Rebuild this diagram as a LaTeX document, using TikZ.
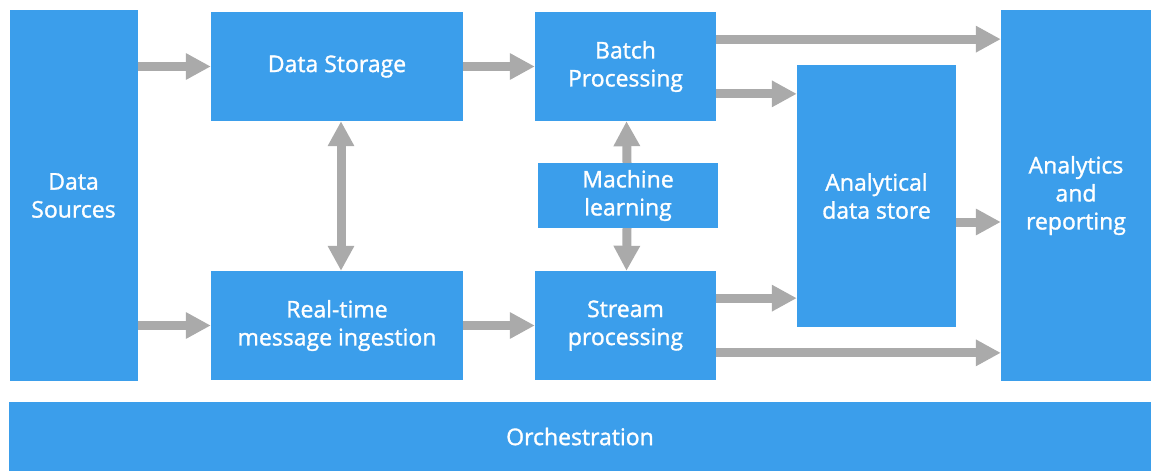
\documentclass[tikz,border=0pt]{standalone}
\usepackage{fontspec}
\setmainfont{Open Sans}
\newfontfamily\boxfont{Open Sans}[FakeBold=1.3]
\usetikzlibrary{arrows.meta,calc}

\definecolor{boxblue}{RGB}{59,158,235}
\definecolor{arrowgray}{RGB}{170,170,170}

\begin{document}
\begin{tikzpicture}[
		x=1pt, y=-1pt,
		every node/.style={rectangle, fill=boxblue, text=white, align=center, inner sep=0pt,
			font=\boxfont\fontsize{23}{28}\selectfont},
		flow/.style={draw=arrowgray, line width=9pt, -{Triangle[length=25pt, width=25pt]}},
		bothflow/.style={flow, {Triangle[length=25pt, width=25pt]}-{Triangle[length=25pt, width=25pt]}}
	]
  \useasboundingbox (0,0) rectangle (1151,471);
  \node (src) [minimum width=128pt, minimum height=371pt] at (73.5, 195.5) {Data\\Sources};
  \node (store) [minimum width=252pt, minimum height=109pt] at (337, 66.5) {Data Storage};
  \node (ingest) [minimum width=252pt, minimum height=109pt] at (337, 325.5) {Real-time\\message ingestion};
  \node (batch) [minimum width=181pt, minimum height=109pt] at (625.5, 66.5) {Batch\\Processing};
  \node (ml) [minimum width=180pt, minimum height=65pt] at (628, 195.5) {Machine\\learning};
  \node (stream) [minimum width=181pt, minimum height=109pt] at (625.5, 325.5) {Stream\\processing};
  \node (ads) [minimum width=159pt, minimum height=262pt] at (876.5, 196) {Analytical\\data store};
  \node (report) [minimum width=150pt, minimum height=371pt] at (1076, 195.5) {Analytics\\and\\reporting};
  \node (orch) [minimum width=1142pt, minimum height=69pt] at (580, 436.5) {Orchestration};
  \draw [flow] (src.east |- store.west) -- (store.west);
  \draw [flow] (src.east |- ingest.west) -- (ingest.west);
  \draw [flow] (store.east) -- (batch.west);
  \draw [flow] (ingest.east) -- (stream.west);
  \draw [bothflow] ([xshift=4pt]store.south) -- ([xshift=4pt]ingest.north);
  \draw [flow] ([xshift=-1pt]ml.north) -- ([xshift=1pt]batch.south);
  \draw [flow] ([xshift=-1pt]ml.south) -- ([xshift=1pt]stream.north);
  \draw [flow] ($(batch.north east)!0.25!(batch.south east)$) coordinate (b1) -- (b1 -| report.west);
  \draw [flow] ($(batch.north east)!0.75!(batch.south east)$) coordinate (b2) -- (b2 -| ads.west);
  \draw [flow] ($(stream.north east)!0.25!(stream.south east)$) coordinate (s1) -- (s1 -| ads.west);
  \draw [flow] ($(stream.north east)!0.75!(stream.south east)$) coordinate (s2) -- (s2 -| report.west);
  \draw [flow] ([yshift=-26pt]ads.east) coordinate (a1) -- (a1 -| report.west);
\end{tikzpicture}
\end{document}
